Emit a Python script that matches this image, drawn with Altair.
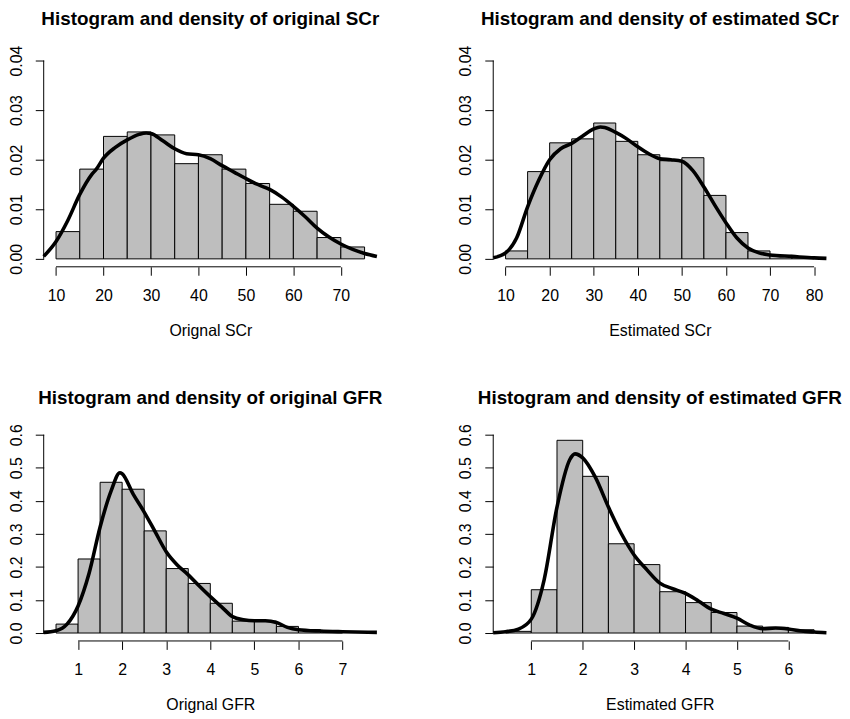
import altair as alt
import pandas as pd

FONT = "Liberation Sans"

# ---------------- Panel 1: original SCr ----------------
scr_o_breaks = [10, 15, 20, 25, 30, 35, 40, 45, 50, 55, 60, 65, 70, 75]
scr_o_dens = [0.0055, 0.0181, 0.0247, 0.0256, 0.0250, 0.0192, 0.0210,
              0.0181, 0.0152, 0.0110, 0.0096, 0.0043, 0.0024]
scr_o_cx = [7.4, 10, 12.5, 15, 17.5, 18.5, 20, 22.5, 25, 27.5, 29, 30, 32.5, 35,
            37.5, 40, 42.5, 45, 47.5, 50, 52.5, 55, 57.5, 60, 62.5, 65, 67.5,
            70, 72.5, 75, 77.6]
scr_o_cy = [0.0005, 0.0035, 0.0078, 0.0130, 0.0170, 0.0181, 0.0203, 0.0225,
            0.0240, 0.0251, 0.0254, 0.0253, 0.0238, 0.0222, 0.0212, 0.0210,
            0.0202, 0.0188, 0.0175, 0.0162, 0.0150, 0.0140, 0.0125, 0.0106,
            0.0085, 0.0062, 0.0044, 0.0030, 0.0019, 0.0011, 0.0005]

# ---------------- Panel 2: estimated SCr ----------------
scr_e_breaks = [10, 15, 20, 25, 30, 35, 40, 45, 50, 55, 60, 65, 70, 75, 80]
scr_e_dens = [0.0016, 0.0176, 0.0234, 0.0242, 0.0274, 0.0237, 0.0210,
              0.0198, 0.0204, 0.0128, 0.0053, 0.0016, 0.0007, 0.0003]
scr_e_cx = [7.2, 10, 12.5, 15, 17.5, 20, 22.5, 25, 27.5, 30, 31.5, 32.5, 35,
            37.5, 40, 42.5, 45, 47.5, 50, 52.5, 55, 57.5, 60, 62.5, 65, 67.5,
            70, 75, 80, 82.8]
scr_e_cy = [0.0002, 0.0012, 0.0042, 0.0105, 0.0158, 0.0200, 0.0222, 0.0233,
            0.0248, 0.0262, 0.0266, 0.0265, 0.0255, 0.0242, 0.0226, 0.0212,
            0.0202, 0.0200, 0.0197, 0.0178, 0.0145, 0.0108, 0.0073, 0.0042,
            0.0022, 0.0012, 0.0008, 0.0005, 0.0002, 0.0001]

# ---------------- Panel 3: original GFR ----------------
gfr_o_breaks = [0.5, 1.0, 1.5, 2.0, 2.5, 3.0, 3.5, 4.0, 4.5, 5.0, 5.5, 6.0, 6.5, 7.0]
gfr_o_dens = [0.027, 0.224, 0.456, 0.435, 0.309, 0.195, 0.150, 0.090,
              0.036, 0.036, 0.020, 0.010, 0.004]
gfr_o_cx = [0.22, 0.5, 0.75, 1.0, 1.25, 1.5, 1.75, 1.95, 2.0, 2.25, 2.5, 2.75,
            3.0, 3.25, 3.5, 3.75, 4.0, 4.25, 4.5, 4.75, 5.0, 5.25, 5.5, 5.75,
            6.0, 6.5, 7.0, 7.78]
gfr_o_cy = [0.002, 0.007, 0.027, 0.082, 0.181, 0.321, 0.430, 0.485, 0.482,
            0.420, 0.366, 0.306, 0.246, 0.206, 0.176, 0.142, 0.110, 0.080,
            0.050, 0.040, 0.037, 0.037, 0.032, 0.017, 0.010, 0.006, 0.004, 0.002]

# ---------------- Panel 4: estimated GFR ----------------
gfr_e_breaks = [0.5, 1.0, 1.5, 2.0, 2.5, 3.0, 3.5, 4.0, 4.5, 5.0, 5.5, 6.0, 6.5]
gfr_e_dens = [0.005, 0.131, 0.583, 0.474, 0.270, 0.207, 0.125, 0.092,
              0.062, 0.021, 0.017, 0.010]
gfr_e_cx = [0.26, 0.5, 0.75, 1.0, 1.25, 1.5, 1.75, 1.85, 2.0, 2.25, 2.5, 2.75,
            3.0, 3.25, 3.5, 3.75, 4.0, 4.25, 4.5, 4.75, 5.0, 5.25, 5.5, 5.75,
            6.0, 6.25, 6.5, 6.74]
gfr_e_cy = [0.001, 0.004, 0.012, 0.042, 0.161, 0.381, 0.525, 0.542, 0.530,
            0.470, 0.381, 0.301, 0.236, 0.191, 0.151, 0.134, 0.120, 0.097,
            0.072, 0.059, 0.045, 0.024, 0.013, 0.015, 0.012, 0.006, 0.003, 0.001]

scr_yticks = [0.00, 0.01, 0.02, 0.03, 0.04]
gfr_yticks = [0.0, 0.1, 0.2, 0.3, 0.4, 0.5, 0.6]

W, H = 336, 216
TICK = 8.5
FS = 16


def panel(title, xlabel, breaks, dens, cx, cy, xdom, xticks, yticks, yfmt):
    ytop = yticks[-1]
    ydom = [-0.04 * ytop, 1.04 * ytop]
    xs = alt.Scale(domain=xdom, nice=False, zero=False)
    ys = alt.Scale(domain=ydom, nice=False, zero=False)
    xaxis = alt.Axis(values=xticks, format="d", domain=False, grid=False,
                     ticks=True, tickSize=TICK, tickColor="black", tickWidth=1,
                     labels=True,
                     labelFont=FONT, labelFontSize=FS, labelColor="black",
                     labelPadding=25, labelBaseline="alphabetic",
                     labelFlush=False, labelOverlap=False,
                     title=xlabel, titleFont=FONT, titleFontSize=FS,
                     titleFontWeight="normal", titleColor="black",
                     titleY=69.4, titleBaseline="alphabetic")
    yaxis = alt.Axis(values=yticks, format=yfmt, domain=False, grid=False,
                     ticks=True, tickSize=TICK, tickColor="black", tickWidth=1,
                     labels=True,
                     labelFont=FONT, labelFontSize=FS, labelColor="black",
                     labelAngle=270, labelAlign="center",
                     labelBaseline="alphabetic", labelPadding=14.2,
                     labelFlush=False, labelOverlap=False, title=None)
    bars_df = pd.DataFrame({"start": breaks[:-1], "end": breaks[1:], "dens": dens})
    curve_df = pd.DataFrame({"x": cx, "y": cy})
    one = pd.DataFrame({"k": [0]})

    bars = alt.Chart(bars_df).mark_rect(
        fill="#BEBEBE", stroke="black", strokeWidth=1
    ).encode(
        x=alt.X("start:Q", scale=xs, axis=xaxis),
        x2="end:Q",
        y=alt.Y("dens:Q", scale=ys, axis=yaxis),
        y2=alt.datum(0),
    )
    curve = alt.Chart(curve_df).mark_line(
        color="black", strokeWidth=3.6, interpolate="monotone"
    ).encode(x=alt.X("x:Q", scale=xs, axis=xaxis),
             y=alt.Y("y:Q", scale=ys, axis=yaxis))
    yrule = alt.Chart(one).mark_rule(color="black", strokeWidth=1).encode(
        x=alt.XDatum(xdom[0], type="quantitative", scale=xs, axis=xaxis),
        y=alt.YDatum(yticks[0], type="quantitative", scale=ys, axis=yaxis),
        y2=alt.datum(ytop))
    xrule = alt.Chart(one).mark_rule(color="black", strokeWidth=1).encode(
        y=alt.YDatum(ydom[0], type="quantitative", scale=ys, axis=yaxis),
        x=alt.XDatum(xticks[0], type="quantitative", scale=xs, axis=xaxis),
        x2=alt.datum(xticks[-1]))

    return alt.layer(bars, curve, yrule, xrule).properties(
        width=W, height=H,
        title=alt.TitleParams(text=title, font=FONT, fontSize=19,
                              fontWeight="bold", color="black",
                              anchor="middle", frame="group",
                              baseline="alphabetic", offset=1.2),
    )


p1 = panel("Histogram and density of original SCr", "Orignal SCr",
           scr_o_breaks, scr_o_dens, scr_o_cx, scr_o_cy,
           [7.4, 77.6], [10, 20, 30, 40, 50, 60, 70], scr_yticks, ".2f")
p2 = panel("Histogram and density of estimated SCr", "Estimated SCr",
           scr_e_breaks, scr_e_dens, scr_e_cx, scr_e_cy,
           [7.2, 82.8], [10, 20, 30, 40, 50, 60, 70, 80], scr_yticks, ".2f")
p3 = panel("Histogram and density of original GFR", "Orignal GFR",
           gfr_o_breaks, gfr_o_dens, gfr_o_cx, gfr_o_cy,
           [0.22, 7.78], [1, 2, 3, 4, 5, 6, 7], gfr_yticks, ".1f")
p4 = panel("Histogram and density of estimated GFR", "Estimated GFR",
           gfr_e_breaks, gfr_e_dens, gfr_e_cx, gfr_e_cy,
           [0.26, 6.74], [1, 2, 3, 4, 5, 6], gfr_yticks, ".1f")

chart = alt.concat(
    p1, p2, p3, p4, columns=2,
    spacing={"row": 161.3, "column": 117.3}, bounds="flush",
).properties(
    padding={"left": 0, "top": -1, "right": 0, "bottom": 0},
    background="white",
).configure_view(stroke=None)

chart.save("out.html", embed_options={"renderer": "svg", "actions": False})
